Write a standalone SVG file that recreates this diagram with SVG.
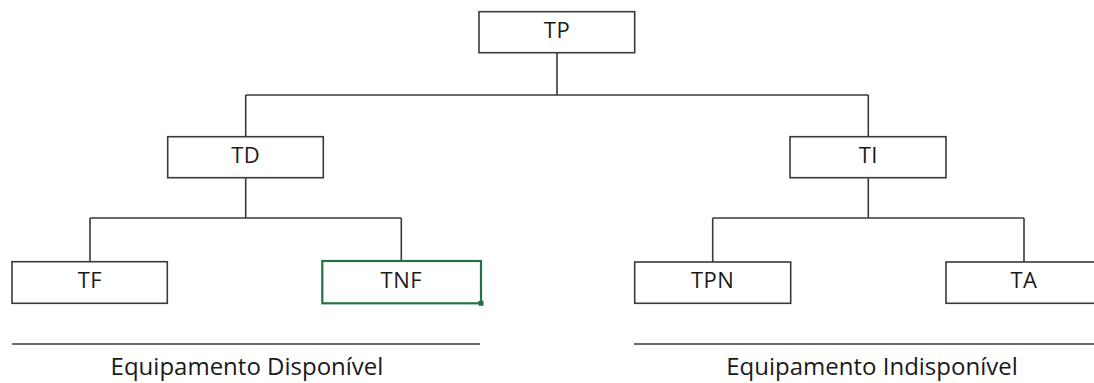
<svg xmlns="http://www.w3.org/2000/svg" width="1094" height="383" viewBox="0 0 1094 383">
  <style>
    .box { fill: #ffffff; stroke: #3a3a3a; stroke-width: 1.6; }
    .sel { fill: #ffffff; stroke: #217346; stroke-width: 2.2; }
    .lbl { font-family: "Open Sans", "Noto Sans", sans-serif; font-size: 22px; fill: #1a1a1a; text-anchor: middle; letter-spacing: 0.5px; }
    .cap { font-family: "Open Sans", "Noto Sans", sans-serif; font-size: 24px; fill: #1a1a1a; text-anchor: middle; }
    .wire { fill: none; stroke: #3a3a3a; stroke-width: 1.6; }
  </style>
  <rect width="1094" height="383" fill="#ffffff"/>

  <g id="connectors">
    <path class="wire" d="M557 53 V95 M245.7 95 H868.3 M245.7 95 V137 M868.3 95 V137"/>
    <path class="wire" d="M245.7 178 V218 M90 218 H401.3 M90 218 V262 M401.3 218 V261"/>
    <path class="wire" d="M868.3 178 V218 M712.7 218 H1024 M712.7 218 V262 M1024 218 V262"/>
  </g>

  <g id="tp">
    <rect class="box" x="479" y="11.7" width="155.7" height="41"/>
    <text class="lbl" x="557" y="37.5">TP</text>
  </g>
  <g id="td">
    <rect class="box" x="167.7" y="136.7" width="155.6" height="41"/>
    <text class="lbl" x="245.7" y="162.5">TD</text>
  </g>
  <g id="ti">
    <rect class="box" x="790" y="136.7" width="156" height="41"/>
    <text class="lbl" x="868.3" y="162.5">TI</text>
  </g>
  <g id="tf">
    <rect class="box" x="12" y="261.7" width="155.3" height="41.6"/>
    <text class="lbl" x="90" y="287.5">TF</text>
  </g>
  <g id="tnf">
    <rect class="sel" x="322.3" y="261" width="158.7" height="42.3"/>
    <rect x="478.5" y="300.8" width="5" height="5" fill="#217346"/>
    <text class="lbl" x="401.3" y="287.5">TNF</text>
  </g>
  <g id="tpn">
    <rect class="box" x="634.7" y="262" width="156" height="41.3"/>
    <text class="lbl" x="712.7" y="287.5">TPN</text>
  </g>
  <g id="ta">
    <rect class="box" x="946" y="262" width="160" height="41.3"/>
    <text class="lbl" x="1024" y="287.5">TA</text>
  </g>

  <g id="group-available">
    <line class="wire" x1="12" y1="344" x2="480" y2="344"/>
    <text class="cap" x="247" y="375">Equipamento Disponível</text>
  </g>
  <g id="group-unavailable">
    <line class="wire" x1="634" y1="344" x2="1094" y2="344"/>
    <text class="cap" x="872" y="375">Equipamento Indisponível</text>
  </g>
</svg>
